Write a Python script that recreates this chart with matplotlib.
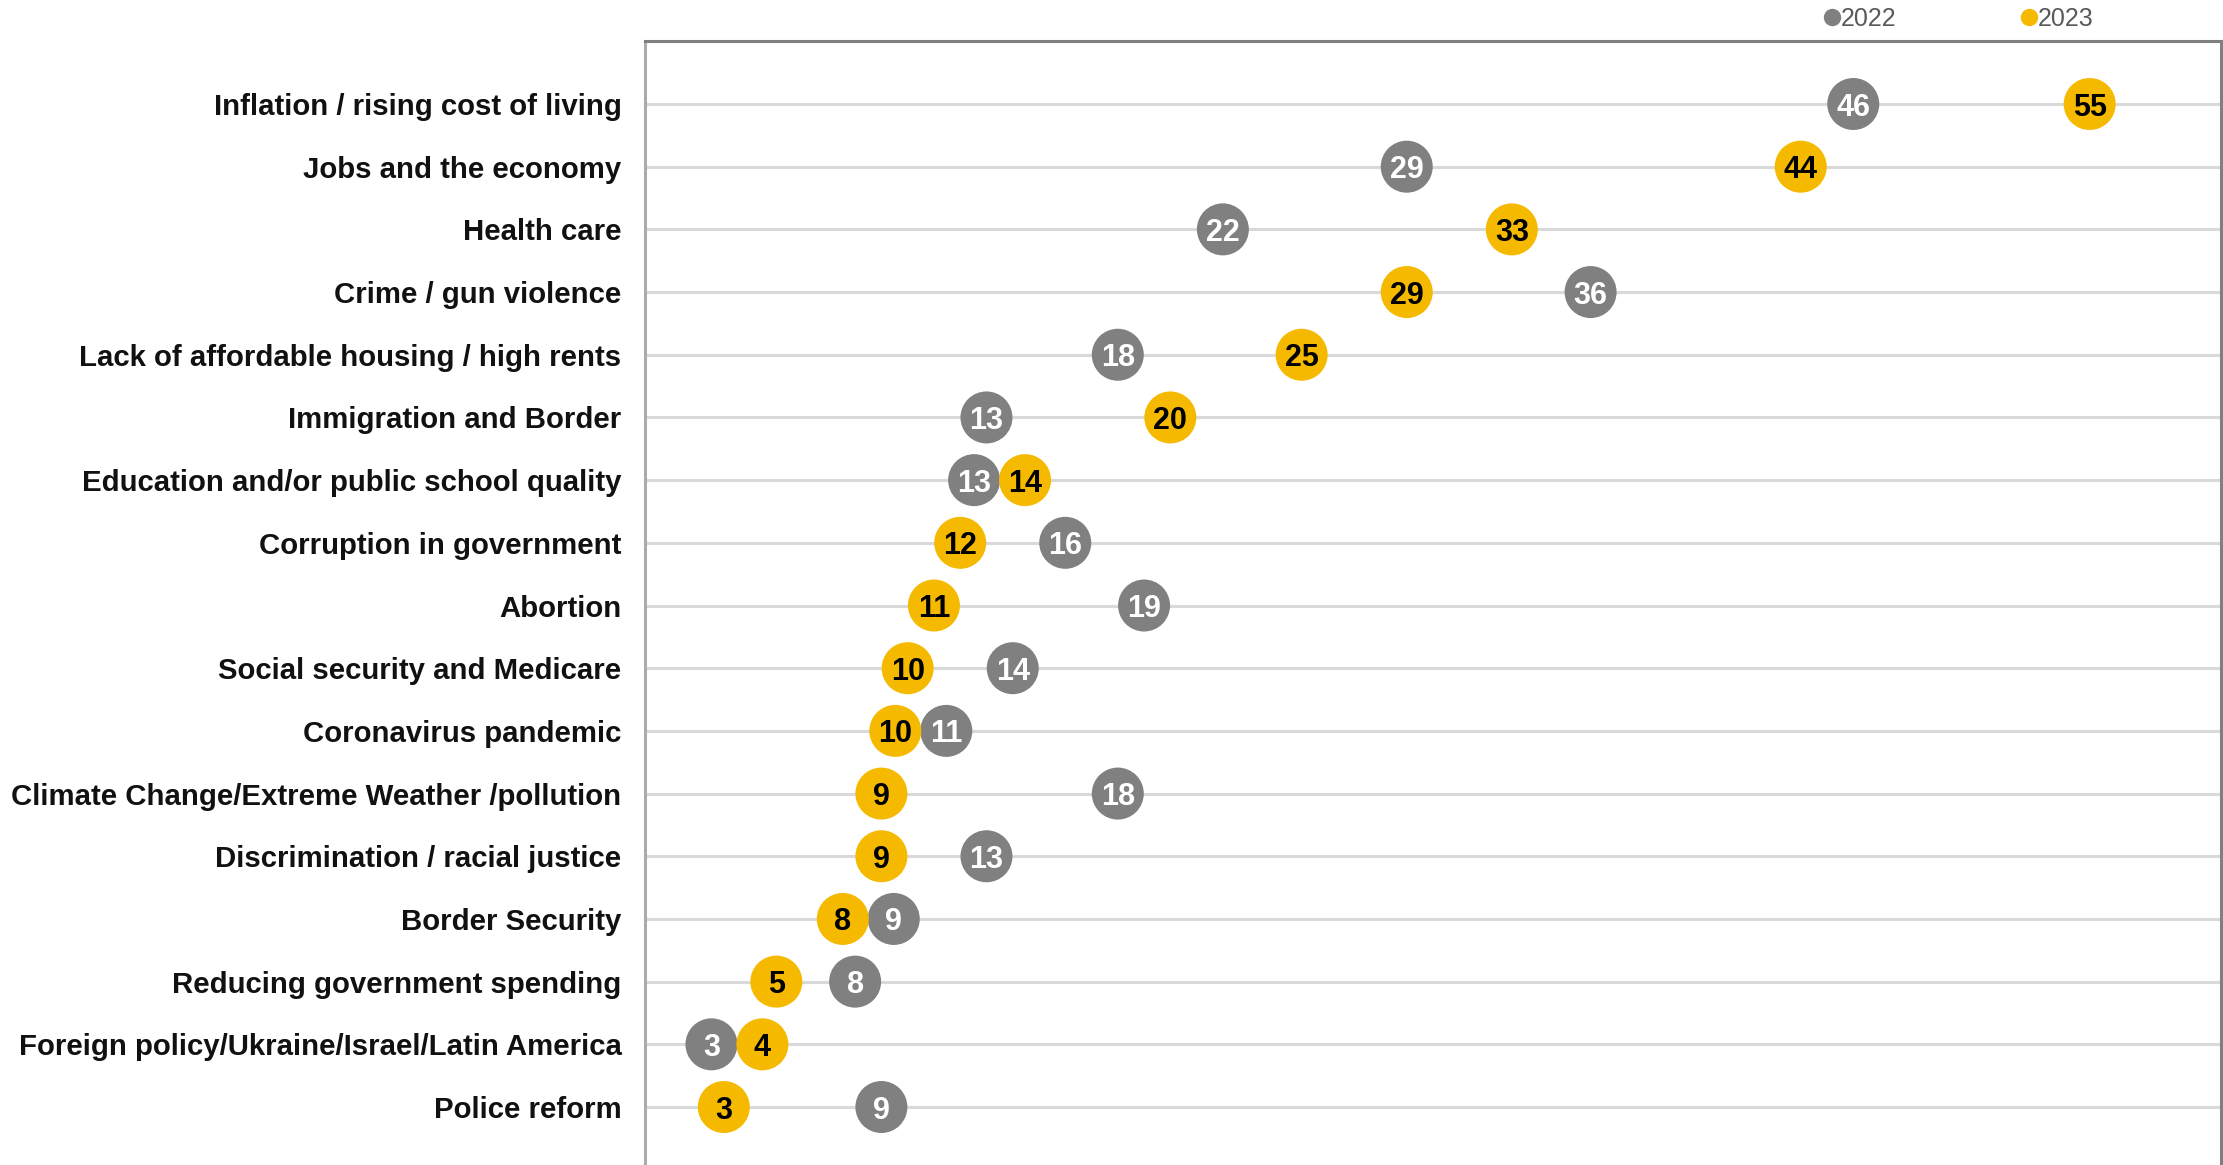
import matplotlib.pyplot as plt
from matplotlib.lines import Line2D
import numpy as np

plt.rcParams['font.family'] = ['Liberation Sans', 'DejaVu Sans']

issues = ["Inflation / rising cost of living",
          "Jobs and the economy",
          "Health care",
          "Crime / gun violence",
          "Lack of affordable housing / high rents",
          "Immigration and Border",
          "Education and/or public school quality",
          "Corruption in government",
          "Abortion",
          "Social security and Medicare",
          "Coronavirus pandemic",
          "Climate Change/Extreme Weather /pollution",
          "Discrimination / racial justice",
          "Border Security",
          "Reducing government spending",
          "Foreign policy/Ukraine/Israel/Latin America",
          "Police reform"]
pct_2022 = [46, 29, 22, 36, 18, 13, 13, 16, 19, 14, 11, 18, 13, 9, 8, 3, 9]
pct_2023 = [55, 44, 33, 29, 25, 20, 14, 12, 11, 10, 10, 9, 9, 8, 5, 4, 3]

GREY = '#808080'
GOLD = '#F5BA00'
W, H, DPI = 2223, 1165, 100
DOT_PX = 52  # dot diameter in pixels

fig = plt.figure(figsize=(W / DPI, H / DPI), dpi=DPI)
ax = fig.add_axes([645 / W, 0, (2221 - 645) / W, 1 - 41 / H])
ax.set_xlim(0, 60)
ax.set_ylim(len(issues) - 1 + 0.925, -1.005)

# units per pixel along x, so touching dots can be nudged apart
unit_per_px = 60 / ((2221 - 645))
min_gap = DOT_PX * 0.98 * unit_per_px

x22 = np.array(pct_2022, dtype=float)
x23 = np.array(pct_2023, dtype=float)
for i in range(len(issues)):
    d = x23[i] - x22[i]
    if abs(d) < min_gap:
        mid = (x22[i] + x23[i]) / 2
        sign = 1 if d >= 0 else -1
        x22[i] = mid - sign * min_gap / 2
        x23[i] = mid + sign * min_gap / 2

y = np.arange(len(issues))
s = (DOT_PX * 72 / DPI) ** 2
ax.scatter(x22, y, s=s, color=GREY, edgecolors='none', zorder=3)
ax.scatter(x23, y, s=s, color=GOLD, edgecolors='none', zorder=4)

for i in range(len(issues)):
    ax.text(x22[i], y[i], str(pct_2022[i]), ha='center', va='center_baseline',
            fontsize=22, fontweight='bold', color='white', zorder=5)
    ax.text(x23[i], y[i], str(pct_2023[i]), ha='center', va='center_baseline',
            fontsize=22, fontweight='bold', color='black', zorder=5)

# horizontal guide lines
for yy in y:
    ax.axhline(yy, color='#d9d9d9', lw=2.2, zorder=1)

ax.set_yticks(y)
ax.set_yticklabels(issues, fontsize=21.2, fontweight='bold', color='#111111')
ax.tick_params(axis='y', length=0, pad=17)
ax.set_xticks([])

for side in ['top', 'right']:
    ax.spines[side].set_color('#7f7f7f')
    ax.spines[side].set_linewidth(2.2)
ax.spines['left'].set_color('#ababab')
ax.spines['left'].set_linewidth(2.2)
ax.spines['bottom'].set_visible(False)

handles = [Line2D([], [], marker='o', ls='none', color=GREY, markersize=11.5, label='2022'),
           Line2D([], [], marker='o', ls='none', color=GOLD, markersize=11.5, label='2023')]
fig.legend(handles=handles, loc='center left', bbox_to_anchor=(1812 / W, 1 - 19 / H),
           ncol=2, frameon=False, fontsize=18, handlelength=0.6, handletextpad=0.05,
           columnspacing=5.0, borderpad=0, labelcolor='#595959')

fig.savefig('out.png', dpi=DPI)
